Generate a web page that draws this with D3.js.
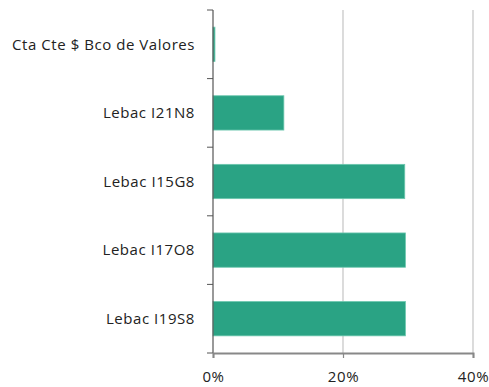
<!DOCTYPE html>
<html>
<head>
<meta charset="utf-8">
<script src="https://cdn.jsdelivr.net/npm/d3@7"></script>
<style>
  body { margin: 0; background: #fff; }
  svg { display: block; font-family: "Open Sans", "Noto Sans", sans-serif; }
</style>
</head>
<body>
<svg id="chart" width="489" height="387"></svg>
<script>
// Portfolio composition by instrument (share of total)
const categories = ["Cta Cte $ Bco de Valores", "Lebac I21N8", "Lebac I15G8", "Lebac I17O8", "Lebac I19S8"];
const values = [0.003, 0.109, 0.295, 0.296, 0.296];
const xTicks = [0, 0.2, 0.4];

const svg = d3.select("#chart");
const margin = { top: 10, right: 17, bottom: 34, left: 213 };
const height = 387 - margin.top - margin.bottom;
const g = svg.append("g").attr("transform", `translate(${margin.left},${margin.top})`);

const x = d3.scaleLinear().domain([0, 0.4]).range([0, 260]);
const y = d3.scaleBand().domain(categories).range([0, height]).paddingInner(0.5).paddingOuter(0.25);

// vertical gridlines
g.selectAll("line.grid").data(xTicks.slice(1)).join("line")
  .attr("class", "grid")
  .attr("x1", d => x(d)).attr("x2", d => x(d))
  .attr("y1", 0).attr("y2", height)
  .attr("stroke", "#c4c4c4").attr("stroke-width", 1.2);

// bars
g.selectAll("rect.bar").data(values).join("rect")
  .attr("class", "bar")
  .attr("x", 0)
  .attr("y", (d, i) => y(categories[i]))
  .attr("width", d => x(d))
  .attr("height", y.bandwidth())
  .attr("fill", "#2aa384")
  .attr("stroke", "#6cc7ae")
  .attr("stroke-width", 0.8);

// category labels
g.selectAll("text.cat").data(categories).join("text")
  .attr("class", "cat")
  .attr("x", -18)
  .attr("y", d => y(d) + y.bandwidth() / 2)
  .attr("dy", "0.35em")
  .attr("text-anchor", "end")
  .attr("font-size", 15)
  .attr("letter-spacing", 0.55)
  .attr("fill", "#222")
  .text(d => d);

// y axis line with boundary ticks between categories
const step = height / categories.length;
g.append("line")
  .attr("x1", 0).attr("x2", 0).attr("y1", 0).attr("y2", height)
  .attr("stroke", "#555").attr("stroke-width", 1.2);
g.selectAll("line.ytick").data(d3.range(categories.length + 1)).join("line")
  .attr("class", "ytick")
  .attr("x1", -6).attr("x2", 0)
  .attr("y1", i => i * step).attr("y2", i => i * step)
  .attr("stroke", "#555").attr("stroke-width", 1);

// x axis
const xAxis = g.append("g")
  .attr("transform", `translate(0,${height})`)
  .call(d3.axisBottom(x).tickValues(xTicks).tickFormat(d3.format(".0%")).tickSize(5).tickPadding(13));
xAxis.select(".domain").attr("stroke", "#888").attr("stroke-width", 2);
xAxis.selectAll(".tick line").attr("stroke", "#888").attr("stroke-width", 1.2);
xAxis.selectAll(".tick text").attr("font-size", 15).attr("letter-spacing", 0.6).attr("fill", "#222")
  .attr("font-family", "\"Open Sans\", \"Noto Sans\", sans-serif");
</script>
</body>
</html>
